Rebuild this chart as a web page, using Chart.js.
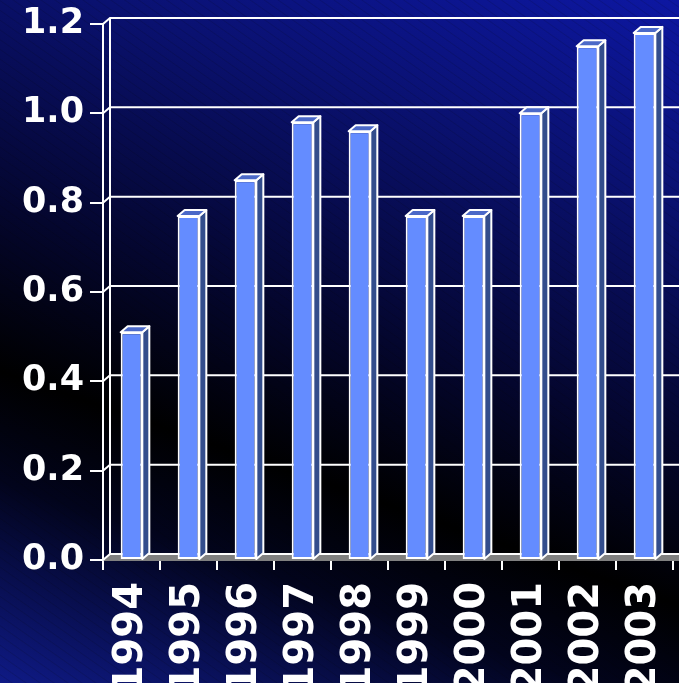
<!DOCTYPE html>
<html>
<head>
<meta charset="utf-8">
<script src="https://cdn.jsdelivr.net/npm/chart.js@4"></script>
<style>
  html, body { margin: 0; padding: 0; }
  body {
    width: 679px; height: 683px; overflow: hidden;
    background:
      repeating-linear-gradient(35deg, rgba(0,0,0,0) 0px, rgba(0,0,0,0) 6px, rgba(0,0,0,0.12) 7px, rgba(0,0,0,0) 8px),
      linear-gradient(199deg, #0d17a2 0%, #0a1170 22%, #04062e 48%, #000000 66%, #02041c 78%, #0f1a86 100%);
  }
  #wrap { position: relative; width: 679px; height: 683px; }
</style>
</head>
<body>
<div id="wrap"><canvas id="myChart"></canvas></div>
<script>
// data
var years = ["1994", "1995", "1996", "1997", "1998", "1999", "2000", "2001", "2002", "2003"];
var values = [0.51, 0.77, 0.85, 0.98, 0.96, 0.77, 0.77, 1.00, 1.15, 1.18];
var yTicks = [0, 0.2, 0.4, 0.6, 0.8, 1.0, 1.2];

// fake 3d depth
var dx = 7, dy = -6;

var box3d = {
    id: 'box3d',
    beforeDatasetsDraw: function(chart) {
        var ctx = chart.ctx, a = chart.chartArea, y = chart.scales.y;
        ctx.save();
        // floor
        ctx.fillStyle = "#808080";
        ctx.beginPath();
        ctx.moveTo(a.left, a.bottom + 1);
        ctx.lineTo(a.left + dx, a.bottom + dy);
        ctx.lineTo(a.right + dx + 10, a.bottom + dy);
        ctx.lineTo(a.right + 10, a.bottom + 1);
        ctx.closePath();
        ctx.fill();
        // back wall
        ctx.strokeStyle = "#fff";
        ctx.lineWidth = 2;
        ctx.beginPath();
        ctx.moveTo(a.left + dx, y.getPixelForValue(1.2) + dy);
        ctx.lineTo(a.left + dx, a.bottom + dy);
        yTicks.forEach(function(v) {
            var py = y.getPixelForValue(v);
            ctx.moveTo(a.left, py);
            ctx.lineTo(a.left + dx, py + dy);
            ctx.lineTo(a.right + dx + 20, py + dy);
        });
        ctx.stroke();
        ctx.restore();
    },
    afterDatasetsDraw: function(chart) {
        var ctx = chart.ctx;
        var bars = chart.getDatasetMeta(0).data;
        ctx.save();
        ctx.strokeStyle = "#fff";
        ctx.lineWidth = 2;
        ctx.lineJoin = "round";
        bars.forEach(function(b) {
            var l = b.x - b.width / 2, r = b.x + b.width / 2;
            // side
            ctx.fillStyle = "#334d8c";
            ctx.beginPath();
            ctx.moveTo(r, b.y);
            ctx.lineTo(r + dx, b.y + dy);
            ctx.lineTo(r + dx, b.base + dy);
            ctx.lineTo(r, b.base);
            ctx.closePath();
            ctx.fill();
            ctx.stroke();
            // top
            ctx.fillStyle = "#4b69c8";
            ctx.beginPath();
            ctx.moveTo(l, b.y);
            ctx.lineTo(l + dx, b.y + dy);
            ctx.lineTo(r + dx, b.y + dy);
            ctx.lineTo(r, b.y);
            ctx.closePath();
            ctx.fill();
            ctx.stroke();
        });
        ctx.restore();
    }
};

var ctx = document.getElementById("myChart");
var myChart = new Chart(ctx, {
    type: 'bar',
    data: {
        labels: years,
        datasets: [{
            label: "values",
            data: values,
            backgroundColor: "#648cff",
            borderColor: "#ffffff",
            borderWidth: 2,
            borderSkipped: false,
            categoryPercentage: 1.0,
            barPercentage: 0.38
        }]
    },
    options: {
        responsive: true,
        maintainAspectRatio: false,
        animation: false,
        layout: { padding: { top: 24, right: 6, left: 0, bottom: 0 } },
        plugins: {
            legend: { display: false },
            tooltip: { enabled: false }
        },
        scales: {
            x: {
                afterFit: function(s) { s.height = 123; s.paddingLeft = 0; s.paddingRight = 0; },
                grid: { drawOnChartArea: false, color: "#fff", lineWidth: 2, tickLength: 10, offset: true },
                border: { color: "#fff", width: 2 },
                ticks: {
                    color: "#fff",
                    font: { family: "DejaVu Sans", weight: "bold", size: 40 },
                    minRotation: 90, maxRotation: 90,
                    autoSkip: false,
                    padding: 12
                }
            },
            y: {
                min: 0, max: 1.2,
                afterFit: function(s) { s.width = 103; s.paddingTop = 0; s.paddingBottom = 0; },
                grid: { drawOnChartArea: false, color: "#fff", lineWidth: 2, tickLength: 13 },
                border: { color: "#fff", width: 2 },
                ticks: {
                    stepSize: 0.2,
                    color: "#fff",
                    font: { family: "DejaVu Sans", weight: "bold", size: 35 },
                    padding: 6,
                    callback: function(v) { return v.toFixed(1); }
                }
            }
        }
    },
    plugins: [box3d]
});
</script>
</body>
</html>
